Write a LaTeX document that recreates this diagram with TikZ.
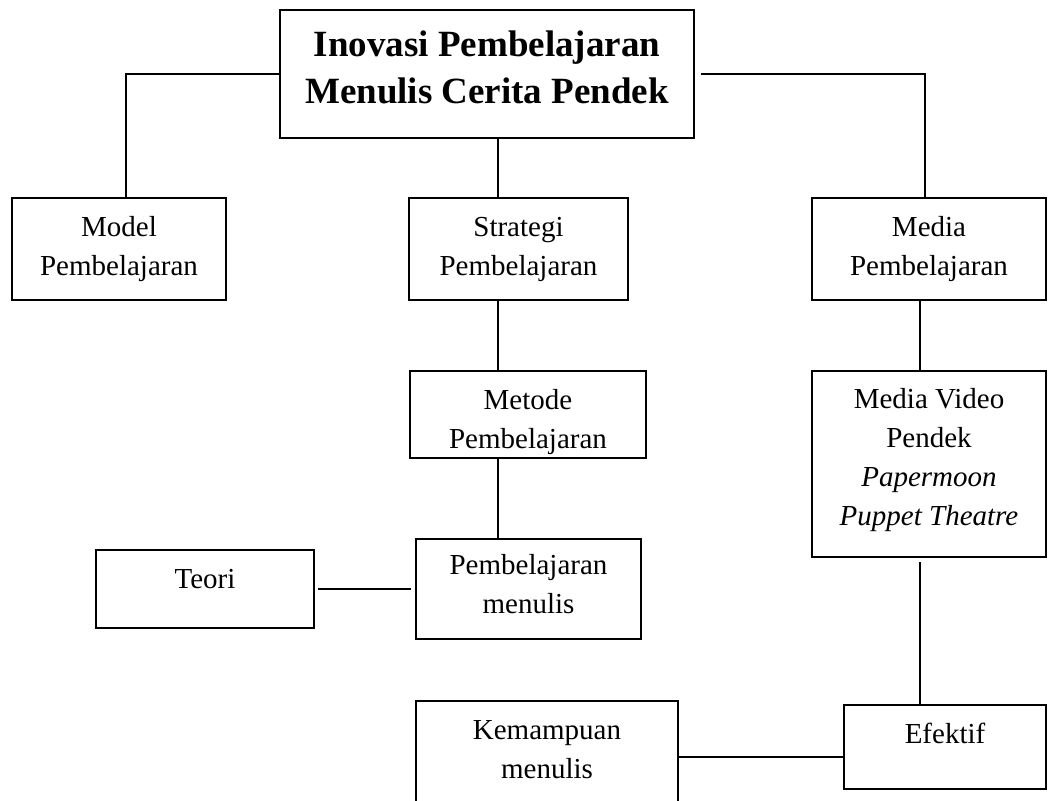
\documentclass[tikz,border=0pt]{standalone}
\usepackage{fontspec}
\setmainfont{Liberation Serif}
\begin{document}
\begin{tikzpicture}[x=1pt, y=-1pt,
    box/.style={draw, line width=2pt, inner sep=0pt, anchor=north, align=flush center,
      font=\fontsize{29}{39}\selectfont},
    link/.style={line width=1.6pt}]

    % page frame, 1048 x 800
    \useasboundingbox (0,0) rectangle (1048,800);
    \clip (0,0) rectangle (1048,800);

    % columns of the long vertical lines
    \coordinate (spine) at (498,0);
    \coordinate (rail) at (920,0);

    % title box
    \node[box, line width=2.4pt, text width=414pt, text height=46pt, text depth=82pt,
      font=\fontsize{37}{47}\selectfont\bfseries] (judul) at (487,9)
      {Inovasi Pembelajaran\\Menulis Cerita Pendek};

    % second row
    \node[box, text width=214pt, text height=38pt, text depth=64pt] (model) at (119,197) {Model\\Pembelajaran};
    \node[box, text width=219pt, text height=38pt, text depth=64pt] (strategi) at (518.5,197) {Strategi\\Pembelajaran};
    \node[box, text width=234pt, text height=38pt, text depth=64pt] (media) at (929,197) {Media\\Pembelajaran};

    % third row
    \node[box, text width=236pt, text height=38pt, text depth=49pt] (metode) at (528,370) {Metode\\Pembelajaran};
    \node[box, text width=234pt, text height=37pt, text depth=149pt] (video) at (929,370)
      {Media Video\\Pendek\\\textit{Papermoon}\\\textit{Puppet Theatre}};

    % fourth row
    \node[box, text width=218pt, text height=38pt, text depth=40pt] (teori) at (205,549) {Teori};
    \node[box, text width=225pt, text height=35pt, text depth=65pt] (pmenulis) at (528.5,538) {Pembelajaran\\menulis};

    % bottom row
    \node[box, text width=262pt, text height=38pt, text depth=90pt] (kemampuan) at (547,700) {Kemampuan\\menulis};
    \node[box, text width=202pt, text height=38pt, text depth=46pt] (efektif) at (945,704) {Efektif};

    % lines
    \draw[link] (judul.west) -| ([xshift=7pt]model.north);
    \draw[link] ([xshift=6pt]judul.east) -| ([xshift=-4pt]media.north);
    \draw[link] (judul.south -| spine) -- (strategi.north -| spine);
    \draw[link] (strategi.south -| spine) -- (metode.north -| spine);
    \draw[link] (metode.south -| spine) -- (pmenulis.north -| spine);
    \draw[link, shorten <=3pt, shorten >=4pt] (teori.east) -- (pmenulis.west);
    \draw[link] (media.south -| rail) -- (video.north -| rail);
    \draw[link, shorten <=4pt] (video.south -| rail) -- (efektif.north -| rail);
    \draw[link] ([yshift=-10pt]efektif.west) -- ([yshift=-10pt]efektif.west -| kemampuan.east);

\end{tikzpicture}
\end{document}
